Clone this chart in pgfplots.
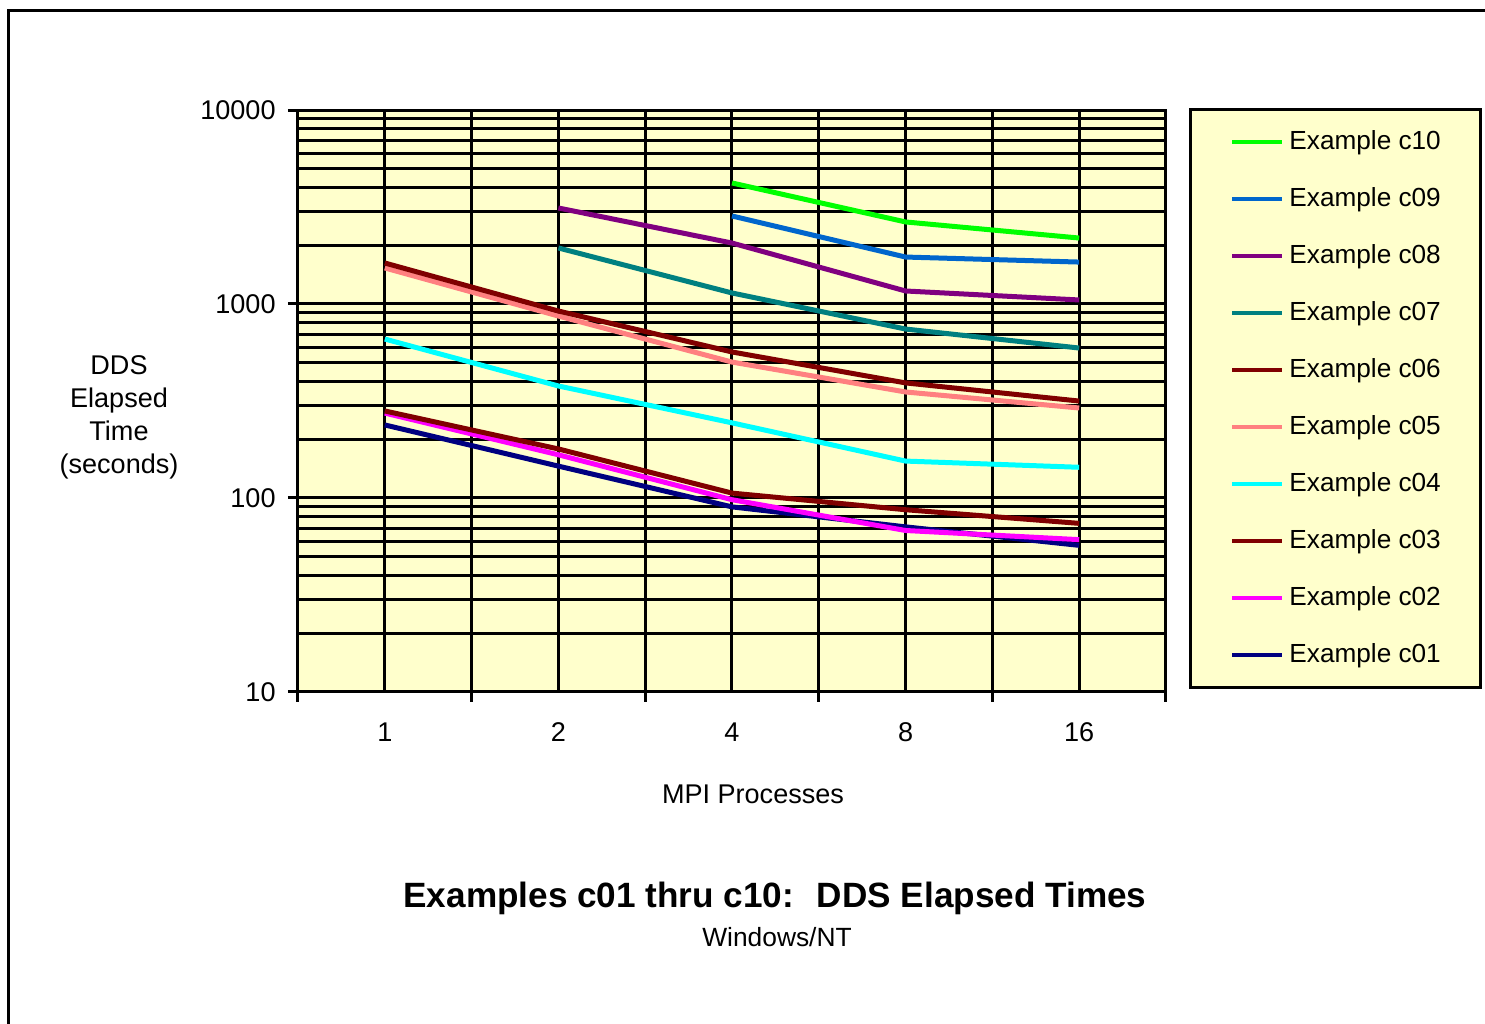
\documentclass[border=0pt]{standalone}
\usepackage{fontspec}
\setmainfont{Liberation Sans}
\usepackage{pgfplots}
\pgfplotsset{compat=1.18}

\definecolor{bgyellow}{RGB}{255,255,204}
\definecolor{cten}{RGB}{0,255,0}
\definecolor{cnine}{RGB}{0,102,204}
\definecolor{ceight}{RGB}{128,0,128}
\definecolor{cseven}{RGB}{0,128,128}
\definecolor{csix}{RGB}{128,0,0}
\definecolor{cfive}{RGB}{255,128,128}
\definecolor{cfour}{RGB}{0,255,255}
\definecolor{cthree}{RGB}{128,0,0}
\definecolor{ctwo}{RGB}{255,0,255}
\definecolor{cone}{RGB}{0,0,128}

\newcommand{\lblfont}{\fontsize{7.7}{9.4}\selectfont}
% pixel position of the reference -> picture coordinate
\newcommand{\px}[2]{({#1*0.1mm},{(1024-#2)*0.1mm})}

\begin{document}
\begin{tikzpicture}
\useasboundingbox \px{0}{1024} rectangle \px{1485}{0};
\draw[line width=0.3mm] \px{8}{1030} -- \px{8}{11} -- \px{1490}{11};

\begin{axis}[
  at={(29.8mm,33.2mm)}, anchor=south west,
  scale only axis, width=86.8mm, height=58.2mm,
  axis background/.style={fill=bgyellow},
  axis line style={black, line width=0.3mm},
  tick style={black, line width=0.3mm},
  tick align=outside,
  xtick pos=bottom, ytick pos=left,
  major tick length=1mm,
  minor tick style={draw=none},
  xmin=-0.5, xmax=4.5,
  xtick={-0.5,0.5,...,4.5},
  xticklabels={},
  extra x ticks={0,1,2,3,4},
  extra x tick labels={1,2,4,8,16},
  extra x tick style={grid=major, major tick length=0pt},
  xticklabel style={font=\lblfont, yshift=-1.8mm},
  ymode=log, ymin=10, ymax=10000,
  ytick={10,100,1000,10000},
  yticklabels={10,100,1000,10000},
  minor ytick={20,30,40,50,60,70,80,90,200,300,400,500,600,700,800,900,2000,3000,4000,5000,6000,7000,8000,9000},
  yticklabel style={font=\lblfont},
  /pgf/number format/assume math mode=true,
  xmajorgrids, ymajorgrids, yminorgrids,
  major grid style={black, line width=0.3mm},
  minor grid style={black, line width=0.3mm},
  every axis plot/.append style={line width=0.5mm},
  reverse legend,
  legend cell align=left,
  legend image code/.code={\draw[#1, line width=0.4mm] (0mm,0mm) -- (5mm,0mm);},
  legend style={at={(1.0265,1.0034)}, anchor=north west,
    fill=bgyellow, draw=black, line width=0.3mm,
    inner xsep=4.0mm, inner ysep=2.0mm,
    row sep=3.2mm, column sep=0.5mm,
    font=\fontsize{7.45}{9}\selectfont,
    nodes={inner sep=0pt, text height=1.95mm, text depth=0.55mm, anchor=west}},
]
\addplot[cone] coordinates {(0,238) (1,146) (2,90) (3,71) (4,57)};
\addlegendentry{Example c01}
\addplot[ctwo] coordinates {(0,274) (1,167) (2,98) (3,68) (4,61)};
\addlegendentry{Example c02}
\addplot[cthree] coordinates {(0,281) (1,179) (2,106) (3,87) (4,74)};
\addlegendentry{Example c03}
\addplot[cfour] coordinates {(0,660) (1,378) (2,244) (3,155) (4,144)};
\addlegendentry{Example c04}
\addplot[cfive] coordinates {(0,1534) (1,867) (2,502) (3,352) (4,291)};
\addlegendentry{Example c05}
\addplot[csix] coordinates {(0,1627) (1,920) (2,566) (3,392) (4,316)};
\addlegendentry{Example c06}
\addplot[cseven] coordinates {(1,1945) (2,1140) (3,743) (4,593)};
\addlegendentry{Example c07}
\addplot[ceight] coordinates {(1,3126) (2,2062) (3,1167) (4,1049)};
\addlegendentry{Example c08}
\addplot[cnine] coordinates {(2,2843) (3,1746) (4,1645)};
\addlegendentry{Example c09}
\addplot[cten] coordinates {(2,4207) (3,2648) (4,2188)};
\addlegendentry{Example c10}
\end{axis}

\node[font=\lblfont, align=center] at \px{119}{417} {DDS\\Elapsed\\Time\\(seconds)};
\node[font=\lblfont] at \px{753}{794} {MPI Processes};
\node[font=\fontsize{10}{12}\selectfont\bfseries] at \px{775}{898} {Examples c01 thru c10:~ DDS Elapsed Times};
\node[font=\fontsize{7.5}{9}\selectfont] at \px{777}{937} {Windows/NT};
\end{tikzpicture}
\end{document}
